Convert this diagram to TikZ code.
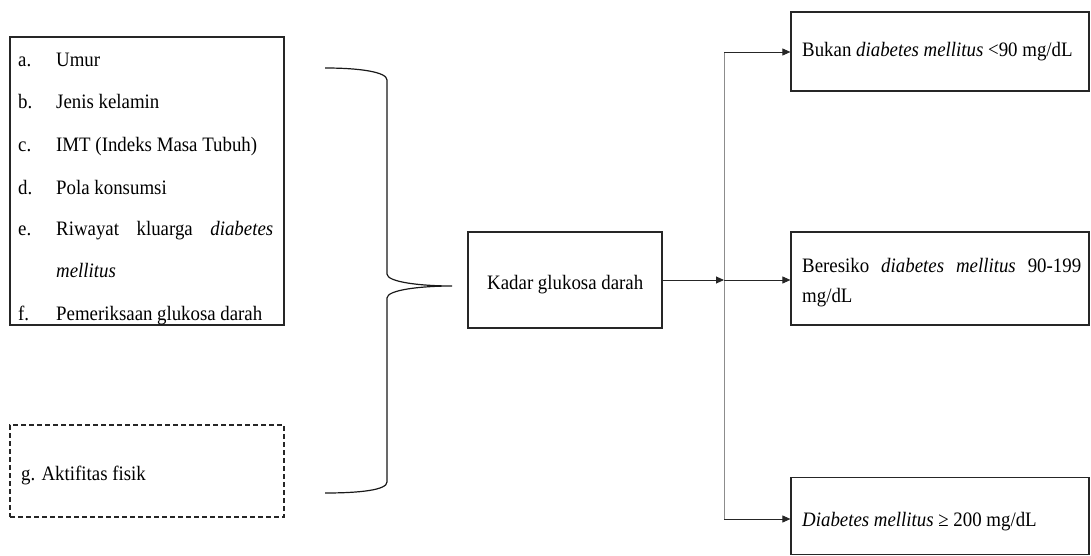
\documentclass[tikz,border=0pt]{standalone}
\usepackage{fontspec}
\setmainfont{Liberation Serif}[FakeStretch=0.92]
\usetikzlibrary{arrows.meta}
\tikzset{
  box/.style={draw=black!85, line width=1.2pt, inner sep=0pt},
  dbox/.style={box, dash pattern=on 5pt off 3pt},
  txt/.style={anchor=base west, inner sep=0pt, font=\fontsize{20.5}{23}\selectfont},
  arr/.style={draw=black!85, line width=0.9pt, -{Triangle[length=8pt,width=7pt]}},
  vline/.style={draw=black!45, line width=1pt},
  brace/.style={draw=black!90, line width=1.2pt}
}
\begin{document}
\begin{tikzpicture}[x=1pt,y=-1pt]
\useasboundingbox (0,0) rectangle (1091,556);
% boxes
\node[box, minimum width=274pt, minimum height=288pt] (factors) at (147,181) {};
\node[dbox, minimum width=274pt, minimum height=92pt] (aktif) at (147,471) {};
\node[box, minimum width=194pt, minimum height=96pt] (kadar) at (565,280) {};
\node[box, minimum width=298pt, minimum height=79pt] (bukan) at (940,51.5) {};
\node[box, minimum width=298pt, minimum height=93pt] (beresiko) at (940,278.5) {};
\node[box, minimum width=298pt, minimum height=77pt] (dm) at (940,516) {};
% left list
\node[txt] (la) at (18,67) {a.};   \node[txt] (ta) at (56,67) {Umur};
\node[txt] (lb) at (18,109) {b.};  \node[txt] (tb) at (56,109) {Jenis kelamin};
\node[txt] (lc) at (18,152) {c.};  \node[txt] (tc) at (56,152) {IMT (Indeks Masa Tubuh)};
\node[txt] (ld) at (18,194) {d.};  \node[txt] (td) at (56,194) {Pola konsumsi};
\node[txt] (le) at (18,235) {e.};  \node[txt] (te) at (56,235) {\makebox[217pt][s]{Riwayat kluarga \textit{diabetes}}};
\node[txt] (te2) at (56,277) {\textit{mellitus}};
\node[txt] (lf) at (18,320) {f.};  \node[txt] (tf) at (56,320) {\makebox[206pt][s]{Pemeriksaan glukosa darah}};
\node[txt] (tg) at (21,480) {g. Aktifitas fisik};
% center and right texts
\node[txt] (tk) at (487,289) {Kadar glukosa darah};
\node[txt] (tbukan) at (802,57) {Bukan \textit{diabetes mellitus} <90 mg/dL};
\node[txt] (tber) at (802,272) {\makebox[279pt][s]{Beresiko \textit{diabetes mellitus} 90-199}};
\node[txt] (tber2) at (802,302) {mg/dL};
\node[txt] (tdm) at (802,526) {\textit{Diabetes mellitus} ≥ 200 mg/dL};
% brace
\coordinate (btop) at (325,68);
\coordinate (btip) at (452,286);
\coordinate (bbot) at (325,493);
\draw[brace] (btop) .. controls (360,68) and (387,72) .. (387,80)
  -- (387,274) .. controls (387,282) and (420,286) .. (btip)
  .. controls (420,286) and (387,290) .. (387,298)
  -- (387,482) .. controls (387,490) and (360,493) .. (bbot);
% connectors
\coordinate (j) at (724,280);
\coordinate (jt) at (724,52);
\coordinate (jb) at (724,519);
\draw[vline] (jt) -- (jb);
\draw[arr] (kadar.east |- j) -- (j);
\draw[arr] (j) -- (j -| beresiko.west);
\draw[arr] (jt) -- (jt -| bukan.west);
\draw[arr] (jb) -- (jb -| dm.west);
\end{tikzpicture}
\end{document}
